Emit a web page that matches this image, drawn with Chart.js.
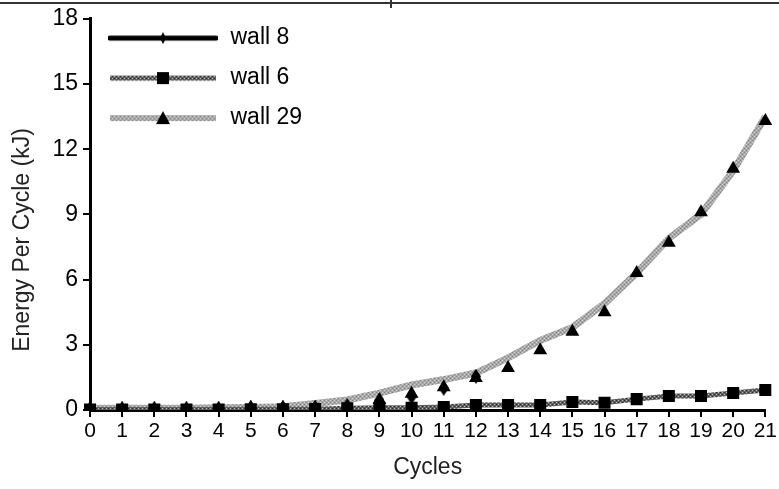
<!DOCTYPE html>
<html>
<head>
<meta charset="utf-8">
<script src="https://cdn.jsdelivr.net/npm/chart.js@4"></script>
<style>
  html, body { margin: 0; padding: 0; background: #fff; }
  #wrap { width: 779px; height: 489px; }
</style>
</head>
<body>
<div id="wrap"><canvas id="chart1" width="779" height="489"></canvas></div>
<script>
// data
var cycles = ['0', '1', '2', '3', '4', '5', '6', '7', '8', '9', '10', '11', '12', '13', '14', '15', '16', '17', '18', '19', '20', '21'];
var wall8 = [0.05, 0.05, 0.05, 0.05, 0.05, 0.1, 0.1, 0.12, 0.2, 0.45, 0.6, 1.0, 1.55];
var wall6 = [0.02, 0.02, 0.02, 0.02, 0.02, 0.03, 0.03, 0.04, 0.08, 0.1, 0.1, 0.14, 0.23, 0.23, 0.23, 0.37, 0.33, 0.5, 0.64, 0.64, 0.78, 0.92];
var wall29 = [0.05, 0.05, 0.05, 0.05, 0.05, 0.1, 0.1, 0.1, 0.15, 0.46, 0.75, 1.05, 1.47, 1.93, 2.75, 3.6, 4.5, 6.3, 7.7, 9.1, 11.1, 13.3];
var wall29Curve = [0.08, 0.08, 0.08, 0.08, 0.1, 0.12, 0.15, 0.3, 0.46, 0.78, 1.15, 1.4, 1.7, 2.4, 3.2, 3.8, 4.9, 6.3, 7.9, 9.0, 11.0, 13.5];
var yTicks = [0, 3, 6, 9, 12, 15, 18];

var FONT = 'Liberation Sans, Arial, sans-serif';

//texture for the grey lines
function makePattern(base, dark, light) {
    var c = document.createElement('canvas');
    c.width = 4; c.height = 4;
    var g = c.getContext('2d');
    g.fillStyle = base;
    g.fillRect(0, 0, 4, 4);
    g.fillStyle = dark;
    g.fillRect(0, 0, 1, 1); g.fillRect(2, 2, 1, 1);
    g.fillStyle = light;
    g.fillRect(2, 0, 1, 1); g.fillRect(0, 2, 1, 1);
    return g.createPattern(c, 'repeat');
}
var pat29 = makePattern('#a8a8a8', '#858585', '#d4d4d4');
var pat6 = makePattern('#5e5e5e', '#2e2e2e', '#bcbcbc');

function diamondImg(w, h) {
    var c = document.createElement('canvas');
    c.width = w; c.height = h;
    var g = c.getContext('2d');
    g.fillStyle = '#000';
    g.beginPath();
    g.moveTo(w / 2, 0); g.lineTo(w, h / 2); g.lineTo(w / 2, h); g.lineTo(0, h / 2);
    g.closePath();
    g.fill();
    return c;
}
var diamond = diamondImg(10, 15);

// legend icons: line plus marker
function legendIcon(stroke, width, marker) {
    var c = document.createElement('canvas');
    c.width = 110; c.height = 20;
    var g = c.getContext('2d');
    g.strokeStyle = stroke;
    g.lineWidth = width;
    g.lineCap = marker == 'diamond' ? 'round' : 'butt';
    g.beginPath(); g.moveTo(2, 10); g.lineTo(108, 10); g.stroke();
    g.fillStyle = '#000';
    if (marker == 'diamond') {
        g.beginPath(); g.moveTo(55, 4); g.lineTo(58, 10); g.lineTo(55, 16); g.lineTo(52, 10); g.closePath(); g.fill();
    } else if (marker == 'square') {
        g.fillRect(49, 4, 12, 12);
    } else {
        g.beginPath(); g.moveTo(55, 3); g.lineTo(62, 16); g.lineTo(48, 16); g.closePath(); g.fill();
    }
    return c;
}
var icons = [legendIcon('#000', 5, 'diamond'), legendIcon(pat6, 5, 'square'), legendIcon(pat29, 6, 'triangle')];

var topBorder = {
    id: 'topBorder',
    afterDraw: function (chart) {
        var ctx = chart.ctx;
        ctx.save();
        ctx.fillStyle = '#333';
        ctx.fillRect(0, 2, 779, 2);
        ctx.fillRect(390, 0, 2, 8);
        ctx.restore();
    }
};

document.addEventListener('DOMContentLoaded', function () {
    var ctx1 = document.getElementById('chart1').getContext('2d');
    var chart1 = new Chart(ctx1, {
        type: 'line',
        data: {
            labels: cycles,
            datasets: [{
                label: 'wall 8',
                data: wall8,
                showLine: false,
                pointStyle: diamond,
                pointRadius: 7,
                order: 1
            }, {
                label: 'wall 6',
                data: wall6,
                borderColor: pat6,
                borderWidth: 5,
                backgroundColor: '#000',
                pointStyle: 'rect',
                pointRadius: 8.5,
                pointBorderWidth: 0,
                pointBackgroundColor: '#000',
                order: 2
            }, {
                label: 'wall 29',
                data: wall29,
                showLine: false,
                pointStyle: 'triangle',
                pointRadius: 8,
                pointBorderWidth: 0,
                pointBackgroundColor: '#000',
                order: 3
            }, {
                label: 'wall 29 curve',
                data: wall29Curve,
                borderColor: pat29,
                borderWidth: 7,
                pointRadius: 0,
                tension: 0,
                order: 4
            }]
        },
        options: {
            responsive: false,
            animation: false,
            layout: { padding: { top: 18, right: 13, left: 0, bottom: 0 } },
            plugins: {
                tooltip: { enabled: false },
                legend: {
                    position: 'chartArea',
                    align: 'start',
                    title: { display: true, text: ' ', padding: 0, font: { size: 8 } },
                    labels: {
                        usePointStyle: true,
                        pointStyleWidth: 112,
                        padding: 17,
                        color: '#000',
                        font: { family: FONT, size: 23 },
                        generateLabels: function (chart) {
                            return ['wall 8', 'wall 6', 'wall 29'].map(function (t, i) {
                                return { text: t, pointStyle: icons[i], datasetIndex: i, lineWidth: 0, fontColor: '#000' };
                            });
                        }
                    }
                }
            },
            scales: {
                x: {
                    type: 'category',
                    offset: false,
                    border: { color: '#000', width: 3 },
                    grid: { drawOnChartArea: false, color: '#000', lineWidth: 2, tickLength: 7 },
                    ticks: { color: '#000', padding: 2, maxRotation: 0, autoSkip: false, font: { family: FONT, size: 21 } },
                    title: { display: true, text: 'Cycles', color: '#222', font: { family: FONT, size: 23 }, padding: { top: 8, bottom: 8 } },
                    afterFit: function (s) { s.height = 79; }
                },
                y: {
                    min: 0,
                    max: 18,
                    afterBuildTicks: function (s) { s.ticks = yTicks.map(function (v) { return { value: v }; }); },
                    border: { color: '#000', width: 3 },
                    grid: { drawOnChartArea: false, color: '#000', lineWidth: 2, tickLength: 7 },
                    ticks: { color: '#000', padding: 5, font: { family: FONT, size: 23 } },
                    // trailing spaces push the rotated title down, as in the picture
                    title: { display: true, text: 'Energy Per Cycle (kJ)        ', color: '#222', font: { family: FONT, size: 23 }, padding: { top: 9, bottom: 2 } },
                    afterFit: function (s) { s.width = 90; }
                }
            }
        },
        plugins: [topBorder]
    });
});
</script>
</body>
</html>
